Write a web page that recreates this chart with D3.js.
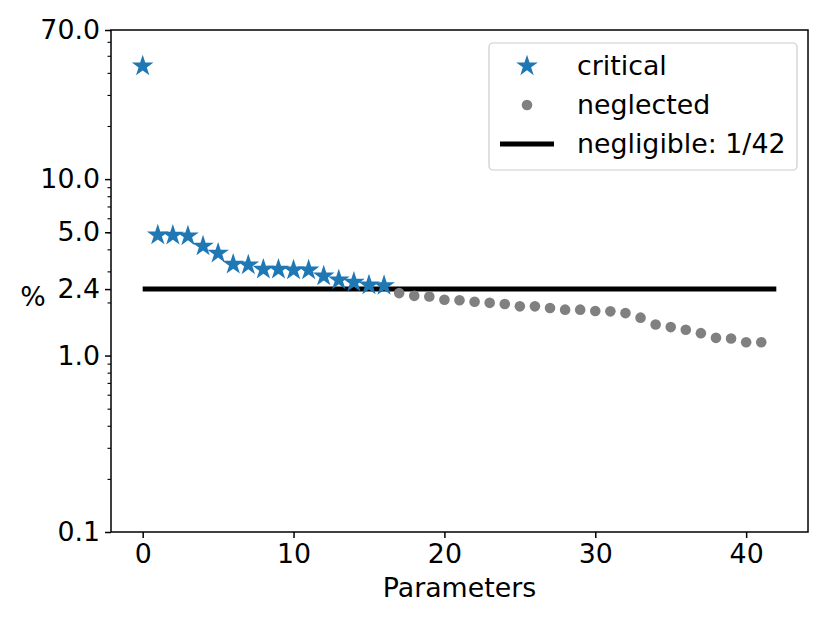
<!DOCTYPE html>
<html>
<head>
<meta charset="utf-8">
<script src="https://cdn.jsdelivr.net/npm/d3@7"></script>
<style>
  body { margin: 0; background: #fff; }
  text { font-family: "DejaVu Sans", sans-serif; fill: #000; }
</style>
</head>
<body>
<svg id="chart" width="830" height="623"></svg>
<script>
// critical parameters (stars), index 0..16
var criticalX = d3.range(0, 17);
var criticalY = [43.7, 4.82, 4.80, 4.76, 4.17, 3.80, 3.29, 3.26, 3.08, 3.08, 3.05, 3.05, 2.82, 2.68, 2.60, 2.51, 2.49];

// neglected parameters (dots), index 17..41
var neglectedX = d3.range(17, 42);
var neglectedY = [2.26, 2.18, 2.16, 2.07, 2.06, 2.02, 1.99, 1.96, 1.90, 1.90, 1.86, 1.82, 1.82, 1.79, 1.78, 1.74,
                  1.64, 1.50, 1.45, 1.40, 1.34, 1.26, 1.25, 1.19, 1.19];

var threshold = 100 / 42;
var yTicks = [0.1, 1.0, threshold, 5.0, 10.0, 70.0];
var yTickLabels = ["0.1", "1.0", "2.4", "5.0", "10.0", "70.0"];
var xTicks = [0, 10, 20, 30, 40];
var legendLabels = ["critical", "neglected", "negligible: 1/42"];

var fs = "26.8px";
var mLeft = 111, mRight = 808, mTop = 30, mBottom = 532;
var svg = d3.select("#chart");

var x = d3.scaleLinear().domain([-2.1, 44.1]).range([mLeft, mRight]);
var y = d3.scaleLog().domain([0.1, 70]).range([mBottom, mTop]);

// minor ticks on the log axis
var minor = [];
[0.1, 1, 10].forEach(function(dec) {
  d3.range(2, 10).forEach(function(m) {
    var v = m * dec;
    if (v <= 70) minor.push(v);
  });
});

var yMinor = d3.axisLeft(y).tickValues(minor).tickSize(3.5).tickFormat("");
svg.append("g").attr("transform", "translate(" + mLeft + ",0)").call(yMinor)
  .call(function(g) { g.select(".domain").remove(); g.selectAll("line").attr("stroke-width", 1.1); });

var yAxis = d3.axisLeft(y).tickValues(yTicks).tickSize(6).tickPadding(5)
  .tickFormat(function(d, i) { return yTickLabels[i]; });
svg.append("g").attr("transform", "translate(" + mLeft + ",0)").call(yAxis)
  .call(function(g) {
    g.select(".domain").remove();
    g.selectAll("line").attr("stroke-width", 1.5);
    g.selectAll("text").style("font-size", fs).style("font-family", "DejaVu Sans");
  });

var xAxis = d3.axisBottom(x).tickValues(xTicks).tickSize(6).tickPadding(6);
svg.append("g").attr("transform", "translate(0," + mBottom + ")").call(xAxis)
  .call(function(g) {
    g.select(".domain").remove();
    g.selectAll("line").attr("stroke-width", 1.5);
    g.selectAll("text").style("font-size", fs).style("font-family", "DejaVu Sans");
  });

// frame
svg.append("rect").attr("x", mLeft).attr("y", mTop)
  .attr("width", mRight - mLeft).attr("height", mBottom - mTop)
  .attr("fill", "none").attr("stroke", "#000").attr("stroke-width", 1.5);

// threshold line
svg.append("line")
  .attr("x1", x(0)).attr("x2", x(42))
  .attr("y1", y(threshold)).attr("y2", y(threshold))
  .attr("stroke", "#000").attr("stroke-width", 5);

// neglected dots
svg.append("g").selectAll("circle")
  .data(neglectedY)
  .enter()
  .append("circle")
  .attr("cx", function(d, i) { return x(neglectedX[i]); })
  .attr("cy", function(d) { return y(d); })
  .attr("r", 5.3)
  .attr("fill", "#808080");

// critical stars
var star = d3.symbol().type(d3.symbolStar).size(145);
svg.append("g").selectAll("path")
  .data(criticalY)
  .enter()
  .append("path")
  .attr("d", star)
  .attr("transform", function(d, i) { return "translate(" + x(criticalX[i]) + "," + y(d) + ")"; })
  .attr("fill", "#1f77b4");

// axis labels
svg.append("text").attr("x", (mLeft + mRight) / 2).attr("y", 597)
  .attr("text-anchor", "middle").style("font-size", fs).text("Parameters");
svg.append("text").attr("x", 33).attr("y", 306)
  .attr("text-anchor", "middle").style("font-size", fs).text("%");

// legend
var lg = svg.append("g");
lg.append("rect").attr("x", 489).attr("y", 43).attr("width", 308).attr("height", 127)
  .attr("rx", 4).attr("fill", "#fff").attr("fill-opacity", 0.8)
  .attr("stroke", "#cccccc").attr("stroke-width", 1.2);
var rowY = [66, 105, 144];
lg.append("path").attr("d", star).attr("transform", "translate(527," + rowY[0] + ")").attr("fill", "#1f77b4");
lg.append("circle").attr("cx", 527).attr("cy", rowY[1]).attr("r", 5.3).attr("fill", "#808080");
lg.append("line").attr("x1", 500).attr("x2", 554).attr("y1", rowY[2]).attr("y2", rowY[2])
  .attr("stroke", "#000").attr("stroke-width", 5);
lg.selectAll("text.lab")
  .data(legendLabels)
  .enter()
  .append("text")
  .attr("class", "lab")
  .attr("x", 577)
  .attr("y", function(d, i) { return rowY[i]; })
  .attr("dy", "0.35em")
  .style("font-size", fs)
  .text(function(d) { return d; });
</script>
</body>
</html>
